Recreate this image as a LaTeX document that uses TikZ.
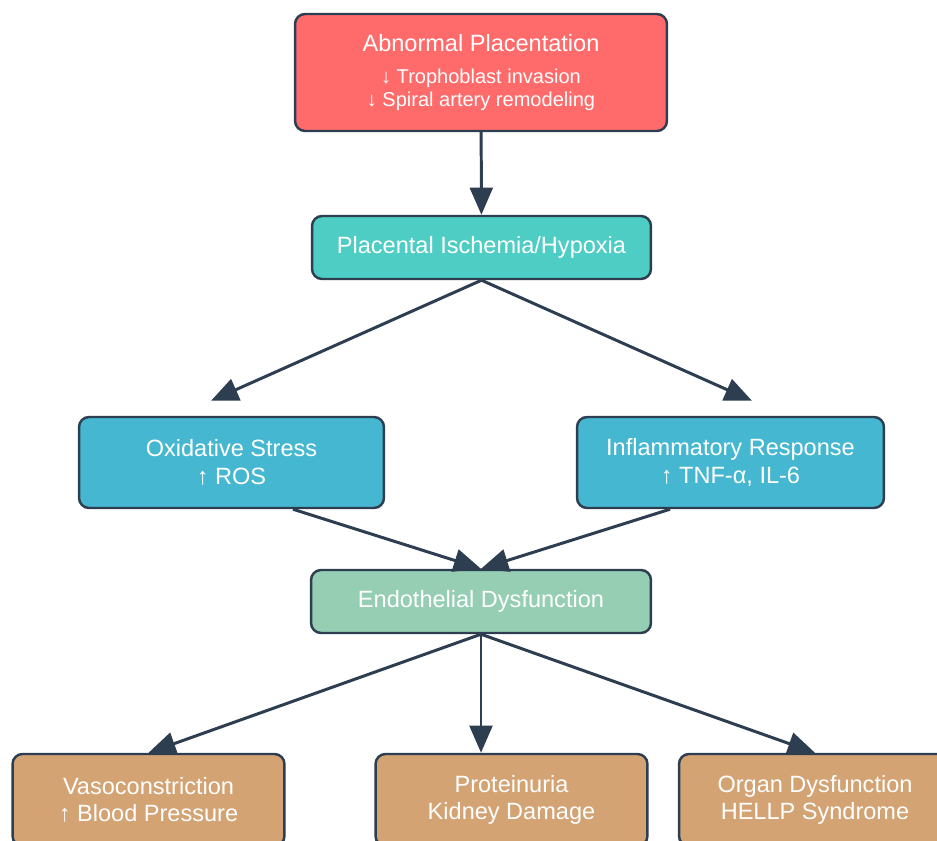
\documentclass[tikz,border=0pt]{standalone}
\usepackage{fontspec}
\setmainfont{Liberation Sans}
\usetikzlibrary{arrows.meta}

\definecolor{edgecol}{HTML}{2C3E50}
\definecolor{redbox}{HTML}{FF6B6B}
\definecolor{tealbox}{HTML}{4ECDC4}
\definecolor{bluebox}{HTML}{45B7D1}
\definecolor{greenbox}{HTML}{96CEB4}
\definecolor{tanbox}{HTML}{D4A373}
\newcommand{\subfont}{\fontsize{11.4}{13}\selectfont}

\begin{document}
\begin{tikzpicture}[x=0.02cm,y=-0.02cm,
	box/.style={draw=edgecol,line width=1.4pt,rounded corners=0.2cm,text=white,align=center,
		font=\fontsize{13.4}{15.6}\selectfont,inner sep=0pt},
	arr/.style={draw=edgecol,line width=1.7pt,-{Triangle[length=15.5pt,width=13pt]}}]
\useasboundingbox (0,0) rectangle (937,841);
\clip (0,0) rectangle (937,841);

\node[box,fill=redbox,minimum width=7.44cm,minimum height=2.34cm] (plac) at (481,72.5)
	{Abnormal Placentation\\[2.5pt]\subfont ↓ Trophoblast invasion\\[-2.6pt]\subfont ↓ Spiral artery remodeling};
\node[box,fill=tealbox,minimum width=6.78cm,minimum height=1.26cm] (isch) at (481.5,247.5) {Placental Ischemia/Hypoxia};

\node[box,fill=bluebox,minimum width=6.1cm,minimum height=1.82cm] (oxid) at (231.5,462.5) {Oxidative Stress\\↑ ROS};
\node[box,fill=bluebox,minimum width=6.14cm,minimum height=1.82cm] (infl) at (730.5,462.5) {Inflammatory Response\\↑ TNF-α, IL-6};

\node[box,fill=greenbox,minimum width=6.8cm,minimum height=1.26cm] (endo) at (481,601.5) {Endothelial Dysfunction};

\foreach \x/\n/\t in {148.5/vaso/{Vasoconstriction\\↑ Blood Pressure},
	511.5/prot/{Proteinuria\\Kidney Damage},
	815/organ/{Organ Dysfunction\\HELLP Syndrome}}
{
	\node[box,fill=tanbox,minimum width=5.44cm,minimum height=1.84cm] (\n) at (\x,800) {\t};
};

\draw[arr] (plac) -- (isch);
\draw[arr] (isch.south) -- ([xshift=-0.41cm,yshift=0.3cm]oxid.north);
\draw[arr] (isch.south) -- ([xshift=0.43cm,yshift=0.3cm]infl.north);

\draw[arr] ([xshift=1.23cm]oxid.south) -- (endo.north);
\draw[arr] ([xshift=-1.21cm]infl.south) -- (endo.north);

\draw[arr] (endo.south) -- (vaso.north);
\draw[arr] (endo.south) -- (endo.south |- prot.north);
\draw[arr] (endo.south) -- (organ.north);
\end{tikzpicture}
\end{document}
